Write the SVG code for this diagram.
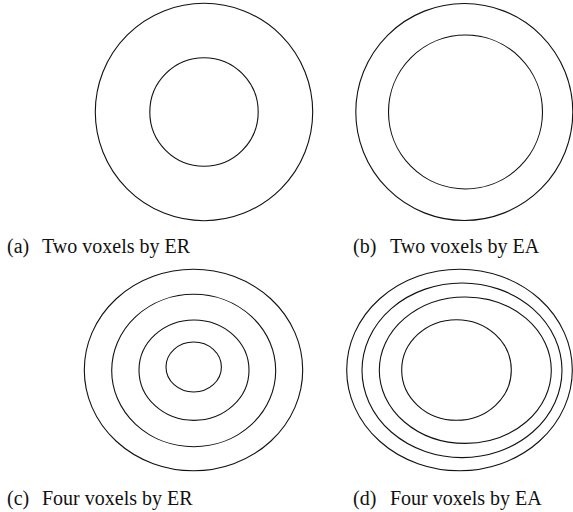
<svg xmlns="http://www.w3.org/2000/svg" width="573" height="512" viewBox="0 0 573 512">
  <style>
    .ring { fill: none; stroke: #111; stroke-width: 1.1; }
    .cap { font-size: 20px; fill: #111; }
  </style>
  <rect width="573" height="512" fill="#fff"/>

  <g font-family="Liberation Serif, Times New Roman, DejaVu Serif, serif">
  <!-- (a) two voxels, equal radius -->
  <g id="panel-a">
    <circle class="ring" cx="204" cy="112" r="108.7"/>
    <circle class="ring" cx="204" cy="112" r="54.2"/>
    <text class="cap" x="7" y="253">(a)</text>
    <text class="cap" x="42" y="253">Two voxels by ER</text>
  </g>

  <!-- (b) two voxels, equal area -->
  <g id="panel-b">
    <circle class="ring" cx="464.3" cy="112" r="108.5"/>
    <circle class="ring" cx="465.5" cy="112" r="77"/>
    <text class="cap" x="353" y="253">(b)</text>
    <text class="cap" x="390" y="253">Two voxels by EA</text>
  </g>

  <!-- (c) four voxels, equal radius -->
  <g id="panel-c">
    <ellipse class="ring" cx="193.5" cy="370" rx="109.2" ry="100.8"/>
    <ellipse class="ring" cx="193.7" cy="370.5" rx="82" ry="76.2"/>
    <ellipse class="ring" cx="194" cy="370.2" rx="55" ry="50.2"/>
    <ellipse class="ring" cx="193.7" cy="367" rx="27.7" ry="25"/>
    <text class="cap" x="7" y="505">(c)</text>
    <text class="cap" x="42" y="505">Four voxels by ER</text>
  </g>

  <!-- (d) four voxels, equal area -->
  <g id="panel-d">
    <ellipse class="ring" cx="459.5" cy="370" rx="112.8" ry="100.8"/>
    <ellipse class="ring" cx="462" cy="370.3" rx="100" ry="87.3"/>
    <ellipse class="ring" cx="465.3" cy="370.2" rx="86" ry="73.2"/>
    <ellipse class="ring" cx="456.5" cy="370" rx="54.8" ry="50.3"/>
    <text class="cap" x="353" y="505">(d)</text>
    <text class="cap" x="390" y="505">Four voxels by EA</text>
  </g>
  </g>
</svg>
